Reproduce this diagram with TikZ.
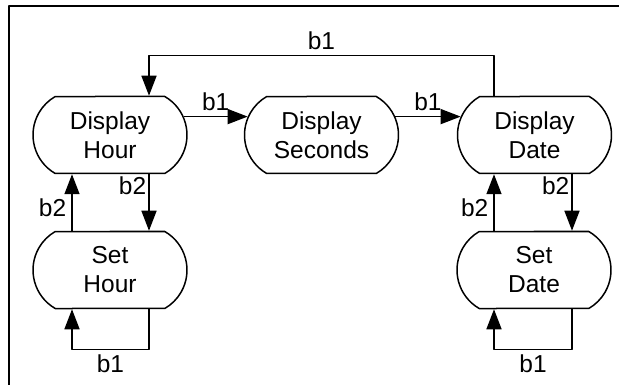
\documentclass[tikz,border=0pt]{standalone}
\usepackage{fontspec}
\setmainfont{Liberation Sans}
\usetikzlibrary{shapes.misc,arrows.meta,calc}
\tikzset{
  state/.style={rounded rectangle, rounded rectangle arc length=120, draw, line width=1.5pt,
    minimum width=154pt, minimum height=77pt, inner sep=0pt, align=center},
  lbl/.style={inner sep=5pt}
}
\begin{document}
\begin{tikzpicture}[x=1pt,y=-1pt,>={Triangle[length=20pt,width=15pt]}, font=\fontsize{24.5}{29}\selectfont, line join=round, line width=1.5pt]
		\useasboundingbox (0,0) rectangle (619,385);
		\draw[line width=2pt] (9,385)--(9,6.5)--(619,6.5);
		\node[state] (dh) at (110,135) {Display\\Hour};
		\node[state] (ds) at (321.5,135) {Display\\Seconds};
		\node[state] (dd) at (534.5,135) {Display\\Date};
		\node[state] (sh) at (110,270) {Set\\Hour};
		\node[state] (sd) at (534,270) {Set\\Date};
		\draw[->] (dh.14)--node[lbl,above] (b1a) {b1} (ds.166);
		\draw[->] (ds.14)--node[lbl,above] (b1b) {b1} (dd.166);
		\draw[->] ($(dd.north)+(-40.5,0)$)--++(0,-40) -| node[lbl,pos=0.25,above] (b1c) {b1} ($(dh.north)+(39,0)$);
		% hour side
		\draw[->] ($(dh.south)+(39,0)$)--node[pos=0,below left,inner sep=2pt] (b2a) {b2} ($(sh.north)+(39,0)$);
		\draw[->] ($(sh.north)+(-38,0)$)--node[lbl,pos=0.4,left] (b2b) {b2} ($(dh.south)+(-38,0)$);
		\draw[->] ($(sh.south)+(39,0)$)--++(0,40) -| node[lbl,pos=0.25,below] (b1d) {b1} ($(sh.south)+(-38,0)$);
		% date side
		\draw[->] ($(dd.south)+(37.5,0)$)--node[pos=0,below left,inner sep=2pt] (b2c) {b2} ($(sd.north)+(38,0)$);
		\draw[->] ($(sd.north)+(-40,0)$)--node[lbl,pos=0.4,left] (b2d) {b2} ($(dd.south)+(-40.5,0)$);
		\draw[->] ($(sd.south)+(38,0)$)--++(0,40) -| node[lbl,pos=0.25,below] (b1e) {b1} ($(sd.south)+(-40,0)$);
\end{tikzpicture}
\end{document}
